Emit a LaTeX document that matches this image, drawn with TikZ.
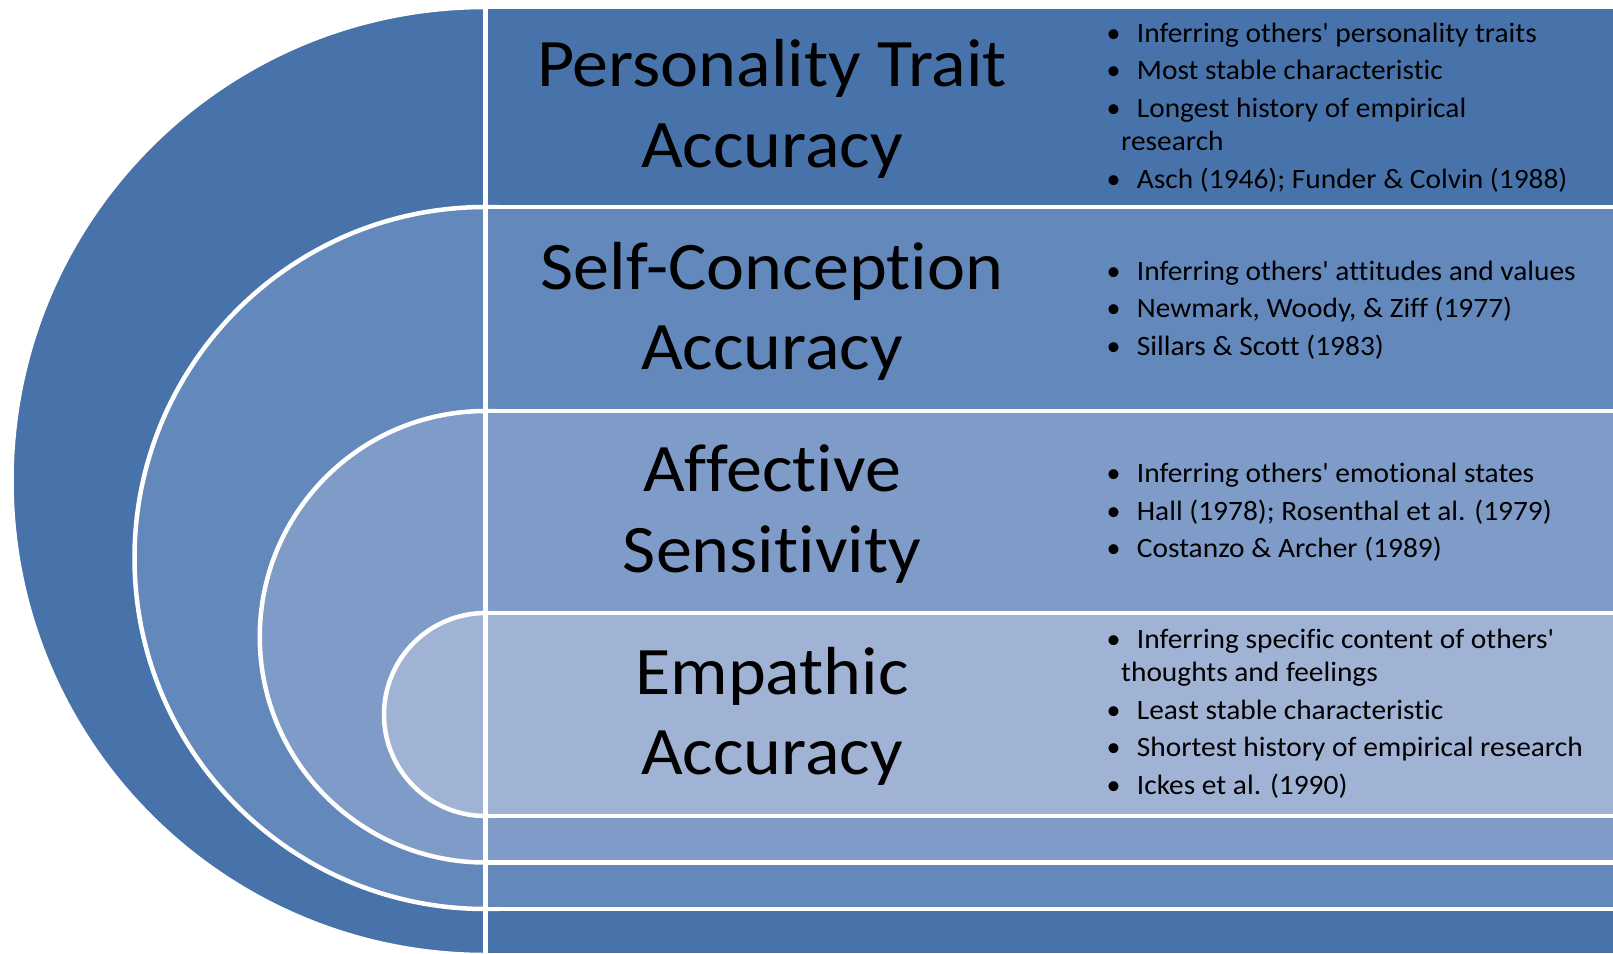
\documentclass[tikz,border=0pt]{standalone}
\usepackage{graphicx}
\usepackage{fontspec}
\newfontfamily\calfont{Carlito}[Ligatures={NoCommon}]
\definecolor{lvA}{HTML}{4773AA}
\definecolor{lvB}{HTML}{6388BC}
\definecolor{lvC}{HTML}{7F9BC7}
\definecolor{lvD}{HTML}{A1B3D5}
\newcommand\tstr[1]{\scalebox{1.06}[1]{#1}}
\newcommand\bstr[1]{\scalebox{1.05}[1]{#1}}
\newcommand\bitem[3]{%
  \node[bdot] (#1d) at (1113.5,#2) {\textbullet};
  \node[btext] (#1) at (1136.7,#2) {\bstr{#3}};}
\begin{document}
\begin{tikzpicture}[x=1pt,y=-1pt,
  ring/.style={draw=white, line width=4.5pt},
  ttl/.style={anchor=base, inner sep=0pt, font=\calfont\fontsize{68}{80}\selectfont},
  btext/.style={anchor=base west, inner sep=0pt, font=\calfont\fontsize{28}{33}\selectfont},
  bdot/.style={anchor=base, inner sep=0pt, font=\calfont\fontsize{28}{33}\selectfont}]
\useasboundingbox (0,0) rectangle (1613,953);
\begin{scope}
\clip (0,0) rectangle (1613,953);
% level 1
\path[fill=lvA, ring] (485.5,481) circle (474);
\path[fill=lvA, ring] (485.5,7) rectangle (1640,955);
% level 2
\path[fill=lvB, ring] (485.5,558) circle (351);
\path[fill=lvB, ring] (485.5,207) rectangle (1640,909);
% level 3
\path[fill=lvC, ring] (485.5,636.75) circle (225.75);
\path[fill=lvC, ring] (485.5,411) rectangle (1640,862.5);
% level 4
\path[fill=lvD, ring] (485.5,714.5) circle (101.5);
\path[fill=lvD, ring] (485.5,613) rectangle (1640,816);
\end{scope}
% titles
\node[ttl] (t1a) at (772,86.5) {\tstr{Personality Trait}};
\node[ttl] (t1b) at (772,167) {\tstr{Accuracy}};
\node[ttl] (t2a) at (772,289) {\tstr{Self-Conception}};
\node[ttl] (t2b) at (772,369.5) {\tstr{Accuracy}};
\node[ttl] (t3a) at (772,491.5) {\tstr{Affective}};
\node[ttl] (t3b) at (772,572) {\tstr{Sensitivity}};
\node[ttl] (t4a) at (772,694) {\tstr{Empathic}};
\node[ttl] (t4b) at (772,774.5) {\tstr{Accuracy}};
% row 1 bullets
\bitem{b11}{42.3}{Inferring others' personality traits}
\bitem{b12}{79.8}{Most stable characteristic}
\bitem{b13}{117.3}{Longest history of empirical}
\node[btext] (b13c) at (1121,150.7) {\bstr{research}};
\bitem{b14}{188.2}{Asch (1946); Funder \& Colvin (1988)}
% row 2 bullets
\bitem{b21}{280}{Inferring others' attitudes and values}
\bitem{b22}{317.5}{Newmark, Woody, \& Ziff (1977)}
\bitem{b23}{355}{Sillars \& Scott (1983)}
% row 3 bullets
\bitem{b31}{482.7}{Inferring others' emotional states}
\bitem{b32}{520}{Hall (1978); Rosenthal et al. (1979)}
\bitem{b33}{557.5}{Costanzo \& Archer (1989)}
% row 4 bullets
\bitem{b41}{648.3}{Inferring specific content of others'}
\node[btext] (b41c) at (1121,681.7) {\bstr{thoughts and feelings}};
\bitem{b42}{719.3}{Least stable characteristic}
\bitem{b43}{756.7}{Shortest history of empirical research}
\bitem{b44}{794}{Ickes et al. (1990)}
\end{tikzpicture}
\end{document}
